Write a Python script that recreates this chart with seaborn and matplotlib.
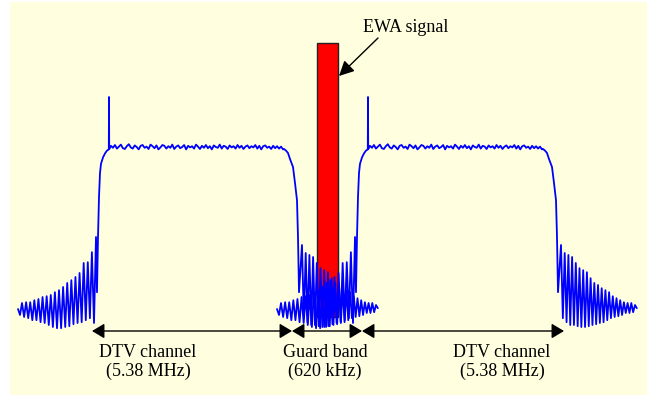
import numpy as np
import pandas as pd
import matplotlib.pyplot as plt
import seaborn as sns

# spectrum of one DTV channel (levels in dB relative to the flat top)
left_teeth_top = [-39.0, -38.8, -38.8, -38.3, -38.0, -37.5, -37.3, -37.0, -36.3, -35.8,
                  -35.0, -34.0, -33.3, -32.5, -31.5, -29.0, -28.8, -26.3, -22.5]
left_teeth_bottom = [-42.0, -42.5, -42.8, -43.3, -43.3, -43.8, -44.0, -44.5, -45.0, -45.3,
                     -45.3, -45.0, -44.8, -44.3, -44.0, -43.8, -43.3, -42.8, -44.0]
rise_x = [97, 98, 99, 100, 101, 103, 105, 107, 109.5]
rise_db = [-36.3, -22.5, -12.5, -6.5, -4.2, -2.6, -1.6, -0.9, -0.4]
pilot_x = 109
pilot_db = 12.5
flat_noise_db = [0.3, -0.2, 0.5, -0.4, 0.1, 0.6, -0.3, -0.5, 0.2, 0.7, -0.1, -0.4, 0.4, 0.0,
                 -0.6, 0.3, 0.5, -0.2, 0.1, -0.5, 0.6, 0.2, -0.3, 0.4, -0.6, -0.1, 0.5, 0.3,
                 -0.4, 0.2, -0.2, 0.6, -0.5, 0.1, 0.4, -0.3, 0.0, 0.5, -0.6, 0.3, -0.1, 0.2,
                 -0.4, 0.6, 0.1, -0.5, 0.3, -0.2, 0.5, -0.3, 0.2, -0.6, 0.4, 0.0, -0.2, 0.6,
                 -0.4, 0.3, 0.1, -0.5, 0.4, -0.1, 0.2, -0.4, 0.5, -0.2, 0.3, -0.5, 0.1, 0.4,
                 -0.3, 0.2, -0.1, 0.5, -0.4, 0.3, -0.6, 0.2, 0.4, -0.2, 0.1, -0.5, 0.3, -0.3,
                 0.2, -0.4, 0.1, -0.6]
roll_x = [284, 286, 288, 290, 293, 295, 297, 298, 299]
roll_db = [-0.5, -0.9, -1.5, -3.0, -5.0, -9.0, -13.3, -22.5, -36.3]
right_teeth_top = [-24.5, -26.5, -27.0, -27.5, -29.0, -30.3, -30.8, -31.3, -32.8, -34.0, -34.5,
                   -35.3, -35.8, -36.3, -37.3, -37.8, -38.3, -38.8, -39.0, -39.0, -39.5]
right_teeth_bottom = [-42.8, -43.8, -44.5, -44.5, -44.8, -45.0, -45.0, -44.8, -44.5, -44.3, -44.0,
                      -43.8, -43.3, -42.8, -42.5, -42.3, -42.0, -41.5, -41.5, -41.3, -40.3]
skirt_start = (18, -40.5)
channel_shift = [0, 259]

# EWA signal bar
ewa_left, ewa_right = 317, 338
ewa_top_db, ewa_floor_db = 26.0, -42.5

# bands under the spectrum
band_edges = [92, 292, 362, 564]
band_labels = ["DTV channel\n(5.38 MHz)", "Guard band\n(620 kHz)", "DTV channel\n(5.38 MHz)"]


def channel_trace():
    xs, ys = [skirt_start[0]], [skirt_start[1]]
    for tx, top, bot in zip(np.linspace(22, 96, len(left_teeth_top)), left_teeth_top, left_teeth_bottom):
        xs += [tx - 2, tx]
        ys += [bot, top]
    xs += rise_x[:-1]
    ys += rise_db[:-1]
    xs += [pilot_x - 0.2, pilot_x, pilot_x + 0.2, rise_x[-1]]
    ys += [-0.6, pilot_db, -0.5, rise_db[-1]]
    xs += list(np.linspace(111, 283, len(flat_noise_db)))
    ys += flat_noise_db
    xs += roll_x
    ys += roll_db
    for tx, top, bot in zip(np.linspace(302, 376, len(right_teeth_top)), right_teeth_top, right_teeth_bottom):
        xs += [tx, tx + 1.85]
        ys += [top, bot]
    return np.array(xs), np.array(ys)


fx, fy = channel_trace()
df = pd.concat([pd.DataFrame({'freq': fx + s, 'level': fy, 'channel': i})
                for i, s in enumerate(channel_shift)], ignore_index=True)

sns.set_theme(style='white')
plt.rcParams['font.family'] = ['Liberation Serif', 'DejaVu Serif']

fig = plt.figure(figsize=(6.47, 3.98), dpi=100, facecolor='white')
ax = fig.add_axes([10 / 647, 3 / 398, 637 / 647, 393 / 398])
ax.set_facecolor('#FFFFE0')

ax.bar((ewa_left + ewa_right) / 2, ewa_top_db - ewa_floor_db, bottom=ewa_floor_db,
       width=ewa_right - ewa_left, color='#FF0000', edgecolor='#222222', linewidth=1, zorder=1)

sns.lineplot(data=df, x='freq', y='level', units='channel', estimator=None, sort=False,
             color='#0000FF', linewidth=1.3, ax=ax, zorder=2)

# EWA label + arrow
ax.text(406, 29.75, "EWA signal", ha='center', va='center', fontsize=13, color='black')
ax.annotate("", xy=(339, 17.75), xytext=(378, 27.25),
            arrowprops=dict(arrowstyle='-|>,head_length=0.9,head_width=0.45', color='black',
                            lw=1, shrinkA=0, shrinkB=0, mutation_scale=10))

# band arrows and labels
arrow_y = -46
for a, b in zip(band_edges[:-1], band_edges[1:]):
    ax.annotate("", xy=(b, arrow_y), xytext=(a, arrow_y),
                arrowprops=dict(arrowstyle='<|-|>,head_length=0.75,head_width=0.45', color='black',
                                lw=1, shrinkA=0, shrinkB=0, mutation_scale=10))
for cx, lab in zip([148, 325, 502], band_labels):
    ax.text(cx, -53.75, lab, ha='center', va='center', fontsize=13, linespacing=1.1, color='black')

ax.set_xlim(10, 647)
ax.set_ylim(-62, 36.25)
ax.set_xticks([])
ax.set_yticks([])
ax.set_xlabel('')
ax.set_ylabel('')
for sp in ax.spines.values():
    sp.set_visible(False)

fig.savefig('out.png', dpi=100, facecolor='white')
